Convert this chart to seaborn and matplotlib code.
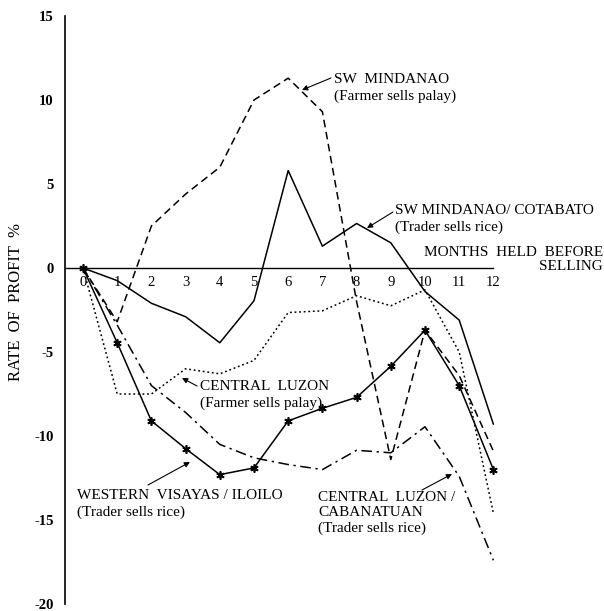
import numpy as np
import pandas as pd
import matplotlib
matplotlib.use("Agg")
import matplotlib.pyplot as plt
import seaborn as sns

# months held before selling
months = list(range(13))

# rate of profit (%)
sw_mindanao_farmer = [0, -3.2, 2.5, 4.4, 6.0, 10.0, 11.3, 9.3, -2.0, -11.4, -3.7, -6.4, -10.9]
sw_mindanao_cotabato = [0, -0.75, -2.1, -2.9, -4.45, -1.95, 5.8, 1.3, 2.65, 1.5, -1.4, -3.1, -9.3]
central_luzon_farmer = [0, -7.5, -7.5, -6.0, -6.3, -5.5, -2.65, -2.55, -1.65, -2.25, -1.3, -5.0, -14.6]
western_visayas_iloilo = [0, -4.45, -9.1, -10.75, -12.3, -11.9, -9.1, -8.35, -7.7, -5.85, -3.7, -7.0, -12.0]
central_luzon_cabanatuan = [0, -3.4, -7.0, -8.6, -10.5, -11.3, -11.7, -12.0, -10.85, -11.0, -9.45, -12.4, -17.4]

y_ticks = [15, 10, 5, 0, -5, -10, -15, -20]

sns.set_theme(style="white")
plt.rcParams["font.family"] = ["Liberation Serif", "DejaVu Serif"]
plt.rcParams["text.color"] = "black"

fig = plt.figure(figsize=(6.04, 6.11), dpi=100)
# left spine at x=65px, top (15) at y=16px, bottom (-20) at y=604px
top_px, bot_px = 16, 604
ax = fig.add_axes([65 / 604, (611 - bot_px) / 611, 535 / 604, (bot_px - top_px) / 611])

x_left = (65 - 83) / 34.2
x_right = (600 - 83) / 34.2

series = [
    (sw_mindanao_farmer, (0, (5, 3)), None),
    (sw_mindanao_cotabato, "-", None),
    (central_luzon_farmer, (0, (1.2, 1.8)), None),
    (western_visayas_iloilo, "-", (6, 2, 0)),
    (central_luzon_cabanatuan, (0, (7, 3, 1.5, 3)), None),
]
for vals, ls, mk in series:
    sns.lineplot(x=months, y=vals, ax=ax, color="black", linestyle=ls, linewidth=1.1,
                 marker=mk, markersize=6, markeredgewidth=1.2, markeredgecolor="black")

ax.set_xlim(x_left, x_right)
ax.set_ylim(-20, 15)

# axes styling: y axis on the left, x axis running along zero
for s in ["top", "right"]:
    ax.spines[s].set_visible(False)
ax.spines["left"].set_color("black")
ax.spines["left"].set_linewidth(1.2)
ax.spines["bottom"].set_position(("data", 0))
ax.spines["bottom"].set_bounds(x_left, 12)
ax.spines["bottom"].set_color("black")
ax.spines["bottom"].set_linewidth(1.0)

ax.set_xticks(months)
ax.set_xticklabels([str(m) for m in months])
ax.set_yticks(y_ticks)
ax.set_yticklabels([str(t) for t in y_ticks])
ax.tick_params(axis="x", direction="inout", length=7, width=1, pad=2, labelsize=10.5, colors="black")
ax.tick_params(axis="y", direction="out", length=5, width=1, pad=3, labelsize=10.5, colors="black")
for lab in ax.get_yticklabels():
    lab.set_fontweight("bold")
ax.set_xlabel("")
ax.set_ylabel("")
ax.grid(False)

fig.text(16 / 604, 1 - 302 / 611, "RATE  OF  PROFIT  %", rotation=90, ha="center", va="center",
         fontsize=12, color="black")

# labels and arrows (positions in pixels of the reference, turned into data units)
unit_y = (bot_px - top_px) / 35.0
zero_y = top_px + 15 * unit_y


def mx(px):
    return (px - 83) / 34.2


def my(py):
    return (zero_y - py) / unit_y


txt = dict(fontsize=11, color="black", linespacing=1.25)
arrow = dict(arrowstyle="-|>", lw=0.8, color="black", mutation_scale=8, shrinkA=0, shrinkB=0)

ax.text(mx(334), my(88), "SW  MINDANAO\n(Farmer sells palay)", ha="left", va="center", **txt)
ax.annotate("", xy=(mx(302), my(90)), xytext=(mx(331), my(78)), arrowprops=arrow)

ax.text(mx(395), my(219), "SW MINDANAO/ COTABATO\n(Trader sells rice)", ha="left", va="center", **txt)
ax.annotate("", xy=(mx(367), my(228)), xytext=(mx(393), my(212)), arrowprops=arrow)

ax.text(mx(603), my(259), "MONTHS  HELD  BEFORE\nSELLING", ha="right", va="center",
        multialignment="right", clip_on=False, fontsize=11, color="black", linespacing=1.1)

ax.text(mx(200), my(395), "CENTRAL  LUZON\n(Farmer sells palay)", ha="left", va="center", **txt)
ax.annotate("", xy=(mx(182), my(378)), xytext=(mx(197), my(386)), arrowprops=arrow)

ax.text(mx(77), my(504), "WESTERN  VISAYAS / ILOILO\n(Trader sells rice)", ha="left", va="center", **txt)
ax.annotate("", xy=(mx(190), my(462)), xytext=(mx(148), my(485)), arrowprops=arrow)

ax.text(mx(318), my(513), "CENTRAL  LUZON /\nCABANATUAN\n(Trader sells rice)", ha="left", va="center", **txt)
ax.annotate("", xy=(mx(452), my(474)), xytext=(mx(422), my(490)), arrowprops=arrow)

fig.savefig("out.png", dpi=100, facecolor="white")
